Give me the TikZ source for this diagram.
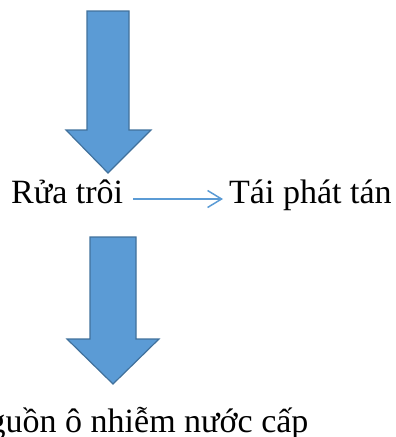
\documentclass[tikz,border=0pt]{standalone}
\usepackage{fontspec}
\setmainfont{Liberation Serif}
\usetikzlibrary{arrows.meta,calc}
\definecolor{blockfill}{HTML}{5B9BD5}
\definecolor{blockedge}{HTML}{41719C}
\tikzset{
  blockarrow/.style={fill=blockfill,draw=blockedge,line width=1.2pt,line join=miter},
  label/.style={inner sep=0pt,anchor=base west,font=\fontsize{34}{40}\selectfont},
  conn/.style={draw=blockfill,line width=1.5pt,-{Straight Barb[length=14pt,width=17pt,line width=1.5pt]}}
}
\begin{document}
\begin{tikzpicture}[x=1pt,y=-1pt]
\useasboundingbox (0,0) rectangle (396,437);
\clip (0,0) rectangle (396,437);
% big arrow 1
\path[blockarrow] (87,11) -- (129,11) -- (129,130) -- (151,130) -- (108,173) -- (66,130) -- (87,130) -- cycle;
% big arrow 2
\path[blockarrow] (90,237) -- (136,237) -- (136,339) -- (159,339) -- (113,384) -- (67,339) -- (90,339) -- cycle;
\node[label] (ra) at (11,203) {Rửa trôi};
\node[label] (tai) at (229,203) {Tái phát tán};
\node[label] (nguon) at (-36,432) {Nguồn ô nhiễm nước cấp};
\draw[conn] ($(ra.base east)+(10,-4)$) -- ($(tai.base west)+(-6,-4)$);
\end{tikzpicture}
\end{document}
